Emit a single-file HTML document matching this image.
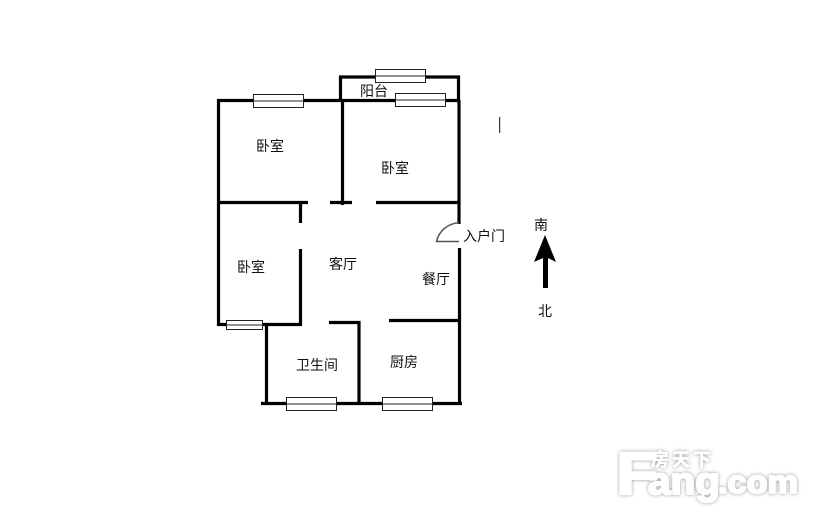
<!DOCTYPE html>
<html lang="zh">
<head>
<meta charset="utf-8">
<style>
html,body{margin:0;padding:0;background:#fff;width:814px;height:519px;overflow:hidden}
svg{display:block}
.t{font-family:"Liberation Sans","Noto Sans CJK SC",sans-serif;font-size:14px;fill:#111}
.w{fill:none;stroke:#000;stroke-width:3.2}
.win{fill:#fff;stroke:#222;stroke-width:1}
.logo{font-family:"Liberation Sans",sans-serif;font-weight:bold;fill:#fff;stroke:#fff;stroke-width:2;stroke-linejoin:round}
</style>
</head>
<body>
<svg width="814" height="519" viewBox="0 0 814 519" xmlns="http://www.w3.org/2000/svg">
<defs>
<filter id="sh" x="-10%" y="-20%" width="120%" height="140%">
<feDropShadow dx="0" dy="0" stdDeviation="1.8" flood-color="#8c8c8c" flood-opacity="0.9"/>
</filter>
</defs>
<rect width="814" height="519" fill="#fff"/>

<!-- walls -->
<g class="w">
<path d="M340.500 100V77H458.500V100"/>
<path d="M218 100.500H458.500"/>
<path d="M218.500 99V326"/>
<path d="M342.500 100V205"/>
<path d="M459 100V224"/>
<path d="M218 202.500H308"/>
<path d="M330 202.500H352"/>
<path d="M376 202.500H459"/>
<path d="M300.500 202V223"/>
<path d="M300.500 249V326"/>
<path d="M218 324.500H302"/>
<path d="M266.500 324V403"/>
<path d="M329 322.500H359V403"/>
<path d="M389 320.500H459"/>
<path d="M459.500 248V404"/>
<path d="M261 403.500H462"/>
</g>

<!-- windows -->
<g class="win">
<rect x="253.500" y="94.500" width="50" height="13"/><path d="M253.500 101H303.500"/>
<rect x="375.500" y="69.500" width="50" height="13"/><path d="M375.500 76H425.500"/>
<rect x="395.500" y="93.500" width="50" height="13"/><path d="M395.500 100H445.500"/>
<rect x="226.500" y="320.500" width="36" height="9"/><path d="M226.500 325H262.500"/>
<rect x="286.500" y="397.500" width="50" height="13"/><path d="M286.500 404H336.500"/>
<rect x="382.500" y="397.500" width="50" height="13"/><path d="M382.500 404H432.500"/>
</g>

<!-- door -->
<path d="M459 222.500C447 224 439 231 436.500 241.500H459" fill="none" stroke="#555" stroke-width="1.500"/>

<!-- tick -->
<rect x="499" y="117" width="1.200" height="16" fill="#333"/>

<!-- north/south arrow -->
<path d="M545 235L556 262L548 258V288H543V258L534 262Z" fill="#000"/>

<!-- labels -->
<text class="t" x="360" y="96">阳台</text>
<text class="t" x="256" y="151">卧室</text>
<text class="t" x="381" y="173">卧室</text>
<text class="t" x="237" y="272">卧室</text>
<text class="t" x="329" y="269">客厅</text>
<text class="t" x="422" y="284">餐厅</text>
<text class="t" x="296" y="370">卫生间</text>
<text class="t" x="390" y="367">厨房</text>
<text class="t" x="463" y="241">入户门</text>
<text class="t" x="534" y="230">南</text>
<text class="t" x="538" y="316">北</text>

<!-- watermark -->
<g filter="url(#sh)">
<text class="logo" x="616" y="494" font-size="60" textLength="42" lengthAdjust="spacingAndGlyphs">F</text>
<text class="logo" x="648" y="494" font-size="38" textLength="72" lengthAdjust="spacingAndGlyphs">ang</text>
<text class="logo" x="718" y="493" font-size="32" textLength="80" lengthAdjust="spacingAndGlyphs">.com</text>
<text class="logo" x="651" y="466" font-size="18" style="font-family:'Liberation Sans','Noto Sans CJK SC',sans-serif;stroke-width:.6" textLength="60">房天下</text>
</g>
</svg>
</body>
</html>
